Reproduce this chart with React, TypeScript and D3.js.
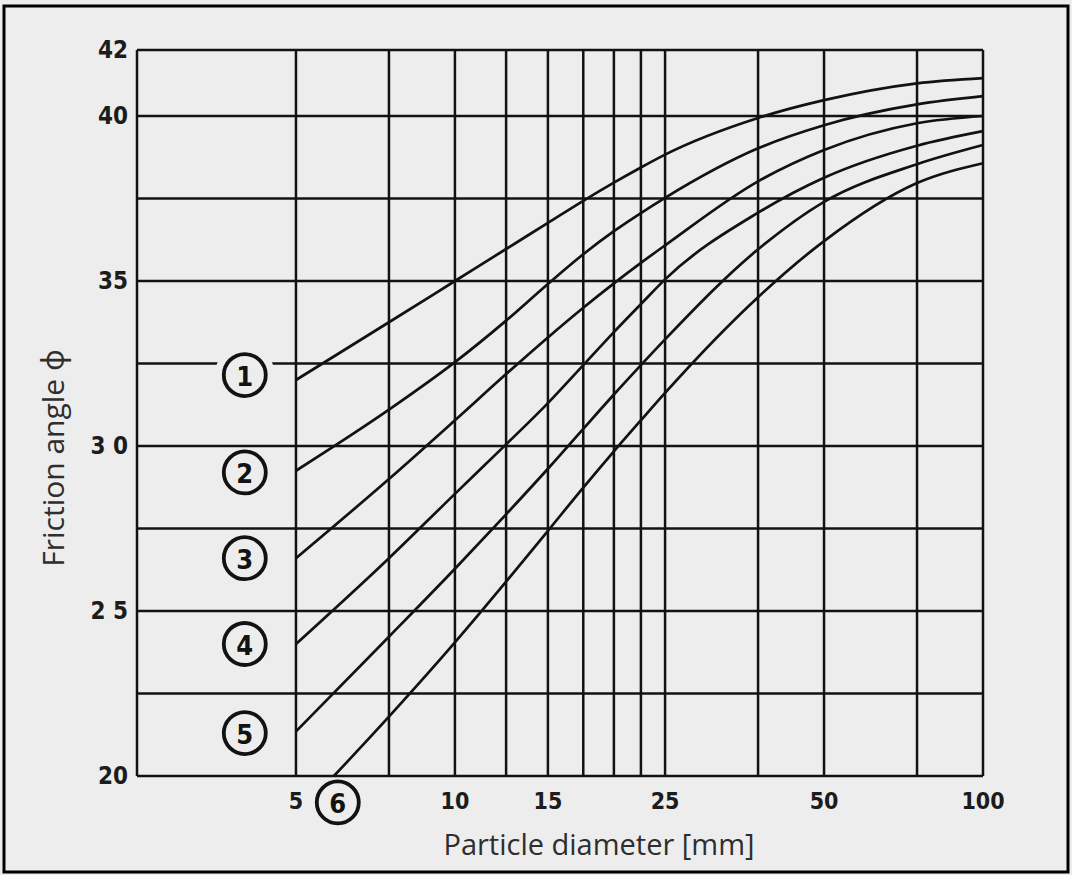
import React from "react";
import * as d3 from "d3";

// Particle diameter grid (mm), log scale
const diameters = [5, 7.5, 10, 12.5, 15, 17.5, 20, 22.5, 25, 37.5, 50, 75, 100];

// Friction angle (degrees) for curves 1..5 at each diameter above
const curve1 = [32.0, 33.75, 35.0, 35.97, 36.76, 37.43, 37.98, 38.44, 38.83, 39.94, 40.48, 40.99, 41.15];
const curve2 = [29.25, 31.1, 32.54, 33.8, 34.91, 35.81, 36.51, 37.06, 37.52, 39.02, 39.72, 40.35, 40.6];
const curve3 = [26.6, 29.0, 30.78, 32.18, 33.29, 34.19, 34.93, 35.55, 36.08, 38.02, 38.97, 39.78, 40.0];
const curve4 = [24.0, 26.6, 28.55, 30.05, 31.3, 32.45, 33.45, 34.3, 35.05, 37.07, 38.13, 39.1, 39.54];
const curve5 = [21.35, 24.22, 26.28, 27.93, 29.31, 30.52, 31.56, 32.45, 33.23, 35.96, 37.4, 38.54, 39.12];

// Curve 6 starts on the 20° line
const curve6Diameters = [5.9, 7.5, 10, 12.5, 15, 17.5, 20, 22.5, 25, 37.5, 50, 75, 100];
const curve6 = [20.0, 21.8, 24.05, 25.89, 27.43, 28.74, 29.84, 30.78, 31.61, 34.51, 36.21, 37.97, 38.57];

// Grid and tick definitions
const xGrid = [2.5, 5, 7.5, 10, 12.5, 15, 17.5, 20, 22.5, 25, 37.5, 50, 75, 100];
const yGrid = [20, 22.5, 25, 27.5, 30, 32.5, 35, 37.5, 40, 42];
const xTicks = [5, 10, 15, 25, 50, 100];
const yTicks = [20, 25, 30, 35, 40, 42];
const yTickText = ["20", "2 5", "3 0", "35", "40", "42"];

// Circled curve numbers: position in data coordinates
const labelNames = ["1", "2", "3", "4", "5", "6"];
const labelD = [4, 4, 4, 4, 4, 6.0];
const labelPhi = [32.15, 29.2, 26.6, 24.0, 21.3, 19.2];

const W = 1072;
const H = 875;
const BG = "#ededed";
const INK = "#121212";

export default function App() {
  const x = d3.scaleLog().domain([2.5, 100]).range([137, 983]);
  const y = d3.scaleLinear().domain([20, 42]).range([776, 50]);

  const line = d3
    .line<[number, number]>()
    .x((p) => x(p[0]))
    .y((p) => y(p[1]))
    .curve(d3.curveMonotoneX);

  const series: [number, number][][] = [
    diameters.map((d, i) => [d, curve1[i]] as [number, number]),
    diameters.map((d, i) => [d, curve2[i]] as [number, number]),
    diameters.map((d, i) => [d, curve3[i]] as [number, number]),
    diameters.map((d, i) => [d, curve4[i]] as [number, number]),
    diameters.map((d, i) => [d, curve5[i]] as [number, number]),
    curve6Diameters.map((d, i) => [d, curve6[i]] as [number, number]),
  ];

  const r = 21;
  const tickFont = "'DejaVu Sans Condensed', 'DejaVu Sans', sans-serif";
  const titleFont = "'Open Sans', 'Noto Sans', sans-serif";

  return (
    <svg
      width={W}
      height={H}
      style={{ position: "absolute", left: 0, top: 0, background: BG }}
    >
      <rect x={4} y={6} width={1064} height={866} fill={BG} stroke="#000" strokeWidth={3} />

      {/* grid */}
      {yGrid.map((v) => (
        <line key={"h" + v} x1={x(2.5)} x2={x(100)} y1={y(v)} y2={y(v)} stroke={INK} strokeWidth={2.5} />
      ))}
      {xGrid.map((d) => (
        <line key={"v" + d} x1={x(d)} x2={x(d)} y1={y(42)} y2={y(20)} stroke={INK} strokeWidth={2.5} />
      ))}

      {/* curves */}
      {series.map((s, i) => (
        <path key={"c" + i} d={line(s) || ""} fill="none" stroke={INK} strokeWidth={2.7} />
      ))}

      {/* y tick labels */}
      {yTicks.map((v, i) => (
        <text
          key={"yt" + v}
          x={128}
          y={y(v)}
          textAnchor="end"
          dominantBaseline="central"
          fontFamily={tickFont}
          fontWeight="bold"
          fontSize={24}
          fill="#1c1c1c"
        >
          {yTickText[i]}
        </text>
      ))}

      {/* x tick labels */}
      {xTicks.map((d) => (
        <text
          key={"xt" + d}
          x={x(d)}
          y={801}
          textAnchor="middle"
          dominantBaseline="central"
          fontFamily={tickFont}
          fontWeight="bold"
          fontSize={23}
          fill="#1c1c1c"
        >
          {d}
        </text>
      ))}

      {/* circled curve numbers */}
      {labelNames.map((n, i) => {
        const cx = x(labelD[i]);
        const cy = y(labelPhi[i]);
        const nearGrid = i < 5 && yGrid.some((g) => Math.abs(y(g) - cy) < r);
        return (
          <g key={"lab" + n}>
            {nearGrid && <circle cx={cx} cy={cy} r={r + 9} fill={BG} />}
            <circle cx={cx} cy={cy} r={r} fill={BG} stroke={INK} strokeWidth={3.8} />
            <text
              x={cx}
              y={cy + 1}
              textAnchor="middle"
              dominantBaseline="central"
              fontFamily={tickFont}
              fontWeight="bold"
              fontSize={27}
              fill={INK}
            >
              {n}
            </text>
          </g>
        );
      })}

      {/* axis titles */}
      <text
        x={599}
        y={843}
        textAnchor="middle"
        dominantBaseline="central"
        fontFamily={titleFont}
        fontSize={29}
        fill="#2e2e2e"
      >
        Particle diameter [mm]
      </text>
      <text
        transform={`translate(52, 458) rotate(-90)`}
        textAnchor="middle"
        dominantBaseline="central"
        fontFamily={titleFont}
        fontSize={30}
        fill="#2e2e2e"
      >
        Friction angle ϕ
      </text>
    </svg>
  );
}
